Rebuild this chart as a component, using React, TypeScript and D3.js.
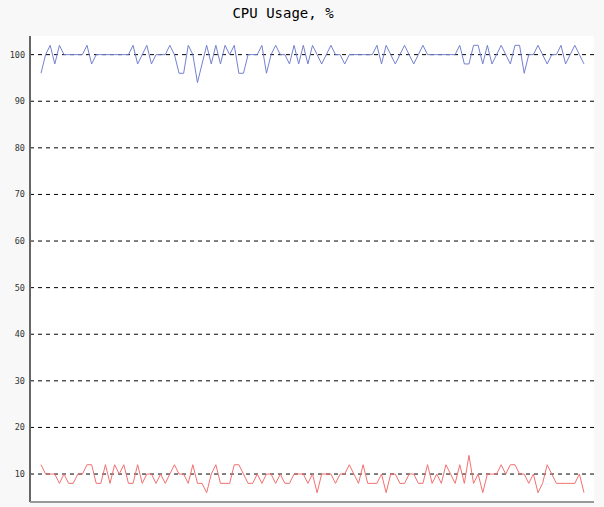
import { useEffect, useRef } from "react";
import * as d3 from "d3";

const chartTitle = "CPU Usage, %";
const yTickValues = [10, 20, 30, 40, 50, 60, 70, 80, 90, 100];

// upper series (blue)
const cpuTotal = [
    96, 100, 102, 98, 102, 100, 100, 100, 100, 100,
    102, 98, 100, 100, 100, 100, 100, 100, 100, 100,
    102, 98, 100, 102, 98, 100, 100, 100, 102, 100,
    96, 96, 102, 100, 94, 98, 102, 98, 102, 98,
    102, 100, 102, 96, 96, 100, 100, 100, 102, 96,
    100, 102, 100, 100, 98, 102, 98, 102, 98, 102,
    100, 98, 100, 102, 100, 100, 98, 100, 100, 100,
    100, 100, 100, 102, 98, 102, 100, 98, 100, 102,
    100, 98, 100, 102, 100, 100, 100, 100, 100, 100,
    100, 102, 98, 98, 102, 102, 98, 102, 98, 100,
    102, 100, 98, 102, 102, 96, 100, 100, 102, 100,
    98, 100, 100, 102, 98, 100, 102, 100, 98,
];

// lower series (red)
const cpuSystem = [
    12, 10, 10, 10, 8, 10, 8, 8, 10, 10,
    12, 12, 8, 8, 12, 8, 12, 10, 12, 8,
    8, 12, 8, 10, 10, 8, 10, 8, 10, 12,
    10, 10, 8, 12, 8, 8, 6, 10, 12, 8,
    8, 8, 12, 12, 10, 8, 8, 10, 8, 10,
    10, 8, 10, 8, 8, 10, 10, 10, 8, 10,
    6, 10, 10, 10, 8, 10, 10, 12, 10, 8,
    12, 8, 8, 8, 10, 6, 10, 10, 8, 8,
    10, 10, 8, 8, 12, 8, 10, 8, 12, 10,
    8, 12, 8, 14, 8, 10, 6, 10, 10, 10,
    12, 10, 12, 12, 10, 10, 8, 10, 6, 8,
    12, 10, 8, 8, 8, 8, 8, 10, 6,
];

const CpuChart = () => {
    const ref = useRef<SVGSVGElement>(null);

    useEffect(() => {
        const svg = d3.select(ref.current);
        svg.selectAll("*").remove();

        const width = 604, height = 507;
        const plot = { left: 30, top: 36, right: 594, bottom: 502 };

        svg.append("rect")
            .attr("width", width)
            .attr("height", height)
            .attr("fill", "#f8f8f8");

        svg.append("rect")
            .attr("x", plot.left)
            .attr("y", plot.top)
            .attr("width", plot.right - plot.left)
            .attr("height", plot.bottom - plot.top)
            .attr("fill", "#ffffff");

        const x = d3.scaleLinear()
            .domain([0, cpuTotal.length - 1])
            .range([41, 584]);
        const y = d3.scaleLinear()
            .domain([4, 104])
            .range([plot.bottom, plot.top]);

        // dashed grid
        svg.append("g")
            .selectAll("line")
            .data(yTickValues)
            .join("line")
            .attr("x1", plot.left)
            .attr("x2", plot.right)
            .attr("y1", d => y(d))
            .attr("y2", d => y(d))
            .attr("stroke", "#000")
            .attr("stroke-width", 1)
            .attr("stroke-dasharray", "4,4");

        // tick labels
        svg.append("g")
            .selectAll("text")
            .data(yTickValues)
            .join("text")
            .attr("x", 25)
            .attr("y", d => y(d))
            .attr("dy", "0.35em")
            .attr("text-anchor", "end")
            .attr("font-family", "'DejaVu Sans Mono', monospace")
            .attr("font-size", 8.5)
            .attr("fill", "#333")
            .text(d => d);

        const line = d3.line<number>()
            .x((_, i) => x(i))
            .y(d => y(d));

        svg.append("path")
            .datum(cpuTotal)
            .attr("fill", "none")
            .attr("stroke", "#7481d0")
            .attr("stroke-width", 1)
            .attr("d", line);

        svg.append("path")
            .datum(cpuSystem)
            .attr("fill", "none")
            .attr("stroke", "#f37070")
            .attr("stroke-width", 1)
            .attr("d", line);

        // axes lines
        svg.append("line")
            .attr("x1", plot.left).attr("x2", plot.left)
            .attr("y1", plot.top).attr("y2", plot.bottom)
            .attr("stroke", "#666")
            .attr("stroke-width", 2);
        svg.append("line")
            .attr("x1", plot.left).attr("x2", plot.right)
            .attr("y1", plot.bottom).attr("y2", plot.bottom)
            .attr("stroke", "#999")
            .attr("stroke-width", 2);

        svg.append("text")
            .attr("x", 283)
            .attr("y", 18)
            .attr("text-anchor", "middle")
            .attr("font-family", "'DejaVu Sans Mono', monospace")
            .attr("font-size", 14)
            .attr("fill", "#000")
            .text(chartTitle);
    }, []);

    return (
        <svg ref={ref} width={604} height={507}
            style={{ position: "absolute", left: 0, top: 0, display: "block" }} />
    );
};

export default function App() {
    return <CpuChart />;
}
